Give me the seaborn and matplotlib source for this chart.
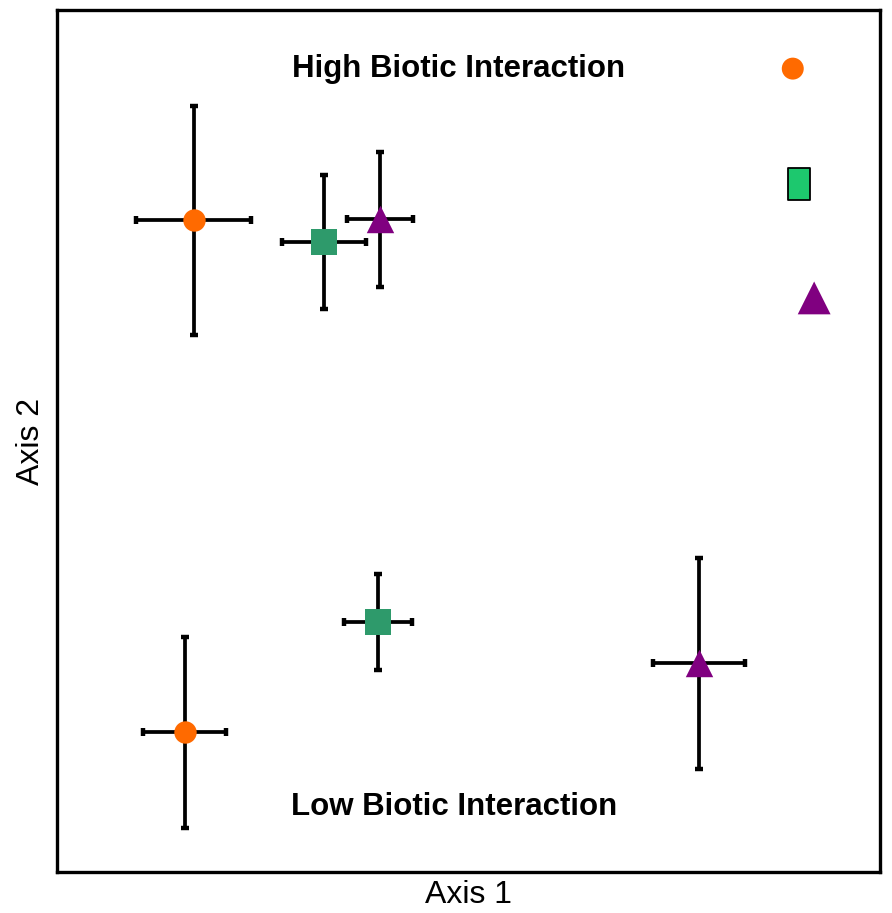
import numpy as np
import pandas as pd
import seaborn as sns
from matplotlib import pyplot as plt
from matplotlib.path import Path

# Group means and error half-widths on the two ordination axes
groups = ['Downed', 'Sapling', 'Shrub', 'Downed', 'Sapling', 'Shrub']
interaction = ['High', 'High', 'High', 'Low', 'Low', 'Low']
axis1 = [1.66, 3.24, 3.92, 1.55, 3.90, 7.80]
axis1_err = [0.70, 0.51, 0.40, 0.50, 0.41, 0.56]
axis2 = [7.56, 7.31, 7.57, 1.62, 2.90, 2.42]
axis2_err = [1.33, 0.78, 0.78, 1.11, 0.56, 1.22]

group_order = ['Downed', 'Sapling', 'Shrub']
group_colors = {'Downed': '#FF6A00', 'Sapling': '#2E9A6B', 'Shrub': '#800080'}
group_markers = {'Downed': 'o', 'Sapling': 's', 'Shrub': '^'}
group_sizes = {'Downed': 260, 'Sapling': 350, 'Shrub': 390}

df = pd.DataFrame({'group': groups, 'interaction': interaction,
                   'axis1': axis1, 'axis1_err': axis1_err,
                   'axis2': axis2, 'axis2_err': axis2_err})

sns.set_style('white')
plt.rcParams['font.family'] = ['Liberation Sans', 'DejaVu Sans']
plt.rcParams['text.color'] = 'black'
plt.rcParams['axes.labelcolor'] = 'black'

fig = plt.figure(figsize=(8.92, 9.13), dpi=100)
ax = fig.add_axes([57 / 892, 1 - 872 / 913, 823 / 892, 862 / 913])

# error bars first so the markers sit on top
ax.errorbar(df['axis1'], df['axis2'], xerr=df['axis1_err'], yerr=df['axis2_err'],
            fmt='none', ecolor='black', elinewidth=2.7, capsize=2.8, capthick=3.2, zorder=2)

for g in group_order:
    sub = df[df['group'] == g]
    sns.scatterplot(data=sub, x='axis1', y='axis2', ax=ax, color=group_colors[g],
                    marker=group_markers[g], s=group_sizes[g], linewidth=0,
                    legend=False, zorder=3)

ax.set_xlim(0, 10)
ax.set_ylim(0, 10)
ax.set_xticks([])
ax.set_yticks([])
ax.set_xlabel('Axis 1', fontsize=23, labelpad=6)
ax.set_ylabel('Axis 2', fontsize=23, labelpad=8)
for spine in ax.spines.values():
    spine.set_visible(True)
    spine.set_color('black')
    spine.set_linewidth(2.4)

ax.text(0.488, 0.932, 'High Biotic Interaction', transform=ax.transAxes,
        ha='center', va='center', fontsize=22.5, fontweight='bold')
ax.text(0.483, 0.075, 'Low Biotic Interaction', transform=ax.transAxes,
        ha='center', va='center', fontsize=22.5, fontweight='bold')

# legend keys (the original pairs them with plant sketches)
tall_rect = Path([(-0.68, -1), (0.68, -1), (0.68, 1), (-0.68, 1), (-0.68, -1)],
                 [Path.MOVETO, Path.LINETO, Path.LINETO, Path.LINETO, Path.CLOSEPOLY])
key_x = [0.894, 0.902, 0.920]
key_y = [0.932, 0.798, 0.666]
key_colors = ['#FF6A00', '#1DC86E', '#800080']
key_markers = ['o', tall_rect, '^']
key_sizes = [250, 560, 560]
key_edges = ['none', 'black', 'none']
for kx, ky, kc, km, ks, ke in zip(key_x, key_y, key_colors, key_markers, key_sizes, key_edges):
    ax.scatter([kx], [ky], transform=ax.transAxes, color=kc, marker=km, s=ks,
               edgecolors=ke, linewidths=1.3, zorder=4, clip_on=False)

fig.savefig('out.png', dpi=100)
